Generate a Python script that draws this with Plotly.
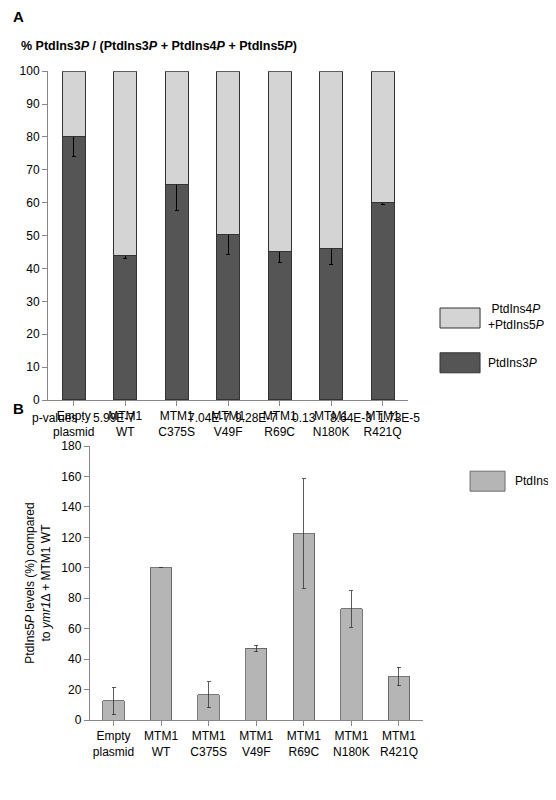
import plotly.graph_objs as go

# categories and values
categories = ['Empty<br>plasmid', 'MTM1<br>WT', 'MTM1<br>C375S', 'MTM1<br>V49F',
              'MTM1<br>R69C', 'MTM1<br>N180K', 'MTM1<br>R421Q']
pi3p_pct = [80, 44, 65.5, 50.2, 45.3, 46, 60.2]
pi3p_err = [6, 1, 8, 5.8, 3.5, 4.8, 0.8]
pi45p_pct = [100 - v for v in pi3p_pct]

pi5p_levels = [12.5, 100, 16.5, 47, 122.5, 73, 28.5]
pi5p_err = [9, 0, 8.5, 2, 36, 12, 6]
p_values = ['5.99E-7', '', '7.04E-7', '9.28E-7', '0.13', '8.64E-3', '1.73E-5']

font = dict(family='Liberation Sans, Arial', size=12, color='black')

fig = go.Figure()

fig.add_trace(go.Bar(x=categories, y=pi3p_pct, marker=dict(color='#555555', line=dict(color='#333333', width=1)),
                     error_y=dict(type='data', array=pi3p_err, color='black', thickness=1, width=2),
                     xaxis='x', yaxis='y', showlegend=False))
fig.add_trace(go.Bar(x=categories, y=pi45p_pct, marker=dict(color='#d4d4d4', line=dict(color='#333333', width=1)),
                     xaxis='x', yaxis='y', showlegend=False))
fig.add_trace(go.Bar(x=categories, y=pi5p_levels, marker=dict(color='#b5b5b5', line=dict(color='#555555', width=0.8)),
                     error_y=dict(type='data', array=pi5p_err, color='#333333', thickness=0.8, width=2),
                     xaxis='x2', yaxis='y2', showlegend=False))

axis_common = dict(showline=True, linecolor='#888888', ticks='outside', tickcolor='#888888',
                   tickfont=font, showgrid=False, zeroline=False, automargin=False)

fig.update_layout(
    width=556, height=800, barmode='stack', bargap=0.55,
    plot_bgcolor='white', paper_bgcolor='white', font=font,
    margin=dict(l=0, r=0, t=0, b=0),
    xaxis=dict(domain=[0.072, 0.72], anchor='y', **axis_common),
    yaxis=dict(domain=[0.51, 0.921], range=[0, 100], dtick=10, anchor='x', **axis_common),
    xaxis2=dict(domain=[0.147, 0.746], anchor='y2', **axis_common),
    yaxis2=dict(domain=[0.11, 0.4525], range=[0, 180], dtick=20, anchor='x2',
                title=dict(text='PtdIns5<i>P</i> levels (%) compared<br>to <i>ymr1</i>Δ + MTM1 WT', font=font, standoff=8),
                **axis_common),
)

ann = [
    dict(x=0.005, y=0.99, text='<b>A</b>', font=dict(size=15)),
    dict(x=0.02, y=0.952, text='<b>% PtdIns3<i>P</i> / (PtdIns3<i>P</i> + PtdIns4<i>P</i> + PtdIns5<i>P</i>)</b>', font=dict(size=12.5)),
    dict(x=0.005, y=0.5, text='<b>B</b>', font=dict(size=15)),
    dict(x=0.04, y=0.4875, text='p-values :', font=font),
    dict(x=0.86, y=0.614, text='PtdIns4<i>P</i><br>+PtdIns5<i>P</i>', font=font, align='center'),
    dict(x=0.86, y=0.556, text='PtdIns3<i>P</i>', font=font),
    dict(x=0.908, y=0.409, text='PtdIns5<i>P</i>', font=font),
]
for a in ann:
    fig.add_annotation(xref='paper', yref='paper', xanchor='left', yanchor='middle', showarrow=False, **a)

for c, p in zip(categories, p_values):
    if p:
        fig.add_annotation(x=c, xref='x2', y=0.4875, yref='paper', text=p, showarrow=False,
                           yanchor='middle', font=font)

# legend swatches
fig.add_shape(type='rect', xref='paper', yref='paper', x0=0.777, x1=0.849, y0=0.600, y1=0.625,
              fillcolor='#d4d4d4', line=dict(color='#333333', width=1))
fig.add_shape(type='rect', xref='paper', yref='paper', x0=0.777, x1=0.849, y0=0.544, y1=0.569,
              fillcolor='#555555', line=dict(color='#333333', width=1))
fig.add_shape(type='rect', xref='paper', yref='paper', x0=0.831, x1=0.894, y0=0.396, y1=0.421,
              fillcolor='#b5b5b5', line=dict(color='#555555', width=0.8))

fig.write_html('out.html')
